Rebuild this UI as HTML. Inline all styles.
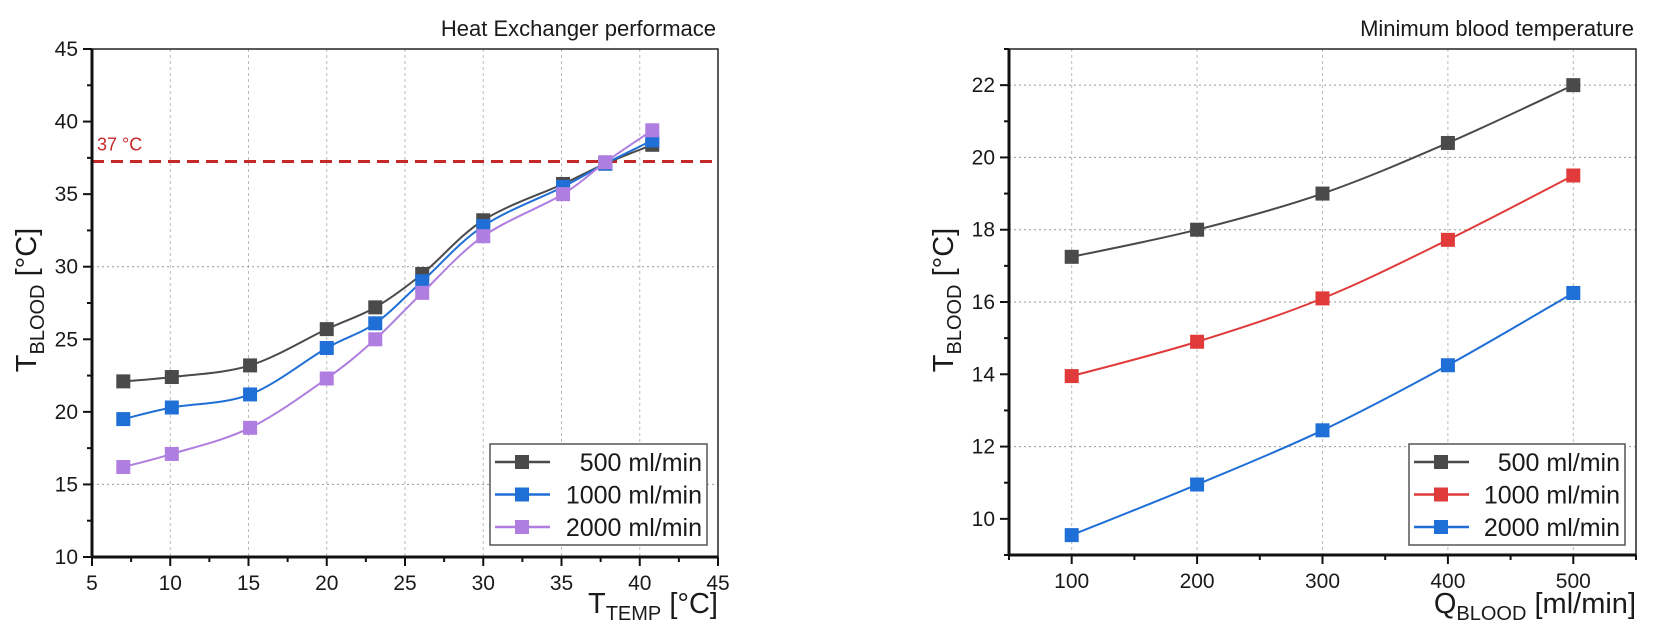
<!DOCTYPE html>
<html><head><meta charset="utf-8">
<style>
html,body{margin:0;padding:0;background:#fff;}
svg{display:block;}
text{font-family:"Liberation Sans",Arial,sans-serif;fill:#1a1a1a;}
</style></head>
<body>
<svg id="s" width="1654" height="642" viewBox="0 0 1654 642" xmlns="http://www.w3.org/2000/svg"></svg>
<script>
const S=document.getElementById('s');let h='';
function cr(pts){let d='M'+pts[0][0]+','+pts[0][1];for(let i=0;i<pts.length-1;i++){const p0=pts[i-1]||pts[i],p1=pts[i],p2=pts[i+1],p3=pts[i+2]||pts[i+1];const t=6;d+=` C${p1[0]+(p2[0]-p0[0])/t},${p1[1]+(p2[1]-p0[1])/t} ${p2[0]-(p3[0]-p1[0])/t},${p2[1]-(p3[1]-p1[1])/t} ${p2[0]},${p2[1]}`;}return d;}
function plot(c){
 const X=v=>c.x0+(v-c.xmin)/(c.xmax-c.xmin)*(c.x1-c.x0);
 const Y=v=>c.y1-(v-c.ymin)/(c.ymax-c.ymin)*(c.y1-c.y0);
 c.xt.forEach(v=>{h+=`<line x1="${X(v)}" y1="${c.y0}" x2="${X(v)}" y2="${c.y1}" stroke="#bbb" stroke-width="1" stroke-dasharray="3,3"/>`;});
 c.yg.forEach(v=>{h+=`<line x1="${c.x0}" y1="${Y(v)}" x2="${c.x1}" y2="${Y(v)}" stroke="#999" stroke-width="1" stroke-dasharray="2,3"/>`;});
 if(c.extra)c.extra(X,Y);
 c.series.forEach(s=>{const pts=s.d.map((v,i)=>[X(c.xs[i]),Y(v)]);h+=`<path d="${cr(pts)}" fill="none" stroke="${s.c}" stroke-width="2"/>`;pts.forEach(p=>{h+=`<rect x="${p[0]-7}" y="${p[1]-7}" width="14" height="14" fill="${s.c}"/>`;});});
 h+=`<rect x="${c.x0}" y="${c.y0}" width="${c.x1-c.x0}" height="${c.y1-c.y0}" fill="none" stroke="#222" stroke-width="1.5"/>`;
 h+=`<line x1="${c.x0}" y1="${c.y0}" x2="${c.x0}" y2="${c.y1}" stroke="#111" stroke-width="3"/><line x1="${c.x0}" y1="${c.y1}" x2="${c.x1}" y2="${c.y1}" stroke="#111" stroke-width="3"/>`;
 c.xt.concat(c.xtl).forEach(v=>{h+=`<line x1="${X(v)}" y1="${c.y1}" x2="${X(v)}" y2="${c.y1+9}" stroke="#111" stroke-width="2"/>`;});
 c.xm.forEach(v=>{h+=`<line x1="${X(v)}" y1="${c.y1}" x2="${X(v)}" y2="${c.y1+5}" stroke="#111" stroke-width="2"/>`;});
 c.yt.forEach(v=>{h+=`<line x1="${c.x0}" y1="${Y(v)}" x2="${c.x0-9}" y2="${Y(v)}" stroke="#111" stroke-width="2"/><text x="${c.x0-14}" y="${Y(v)+7}" font-size="21" text-anchor="end">${v}</text>`;});
 c.ym.forEach(v=>{h+=`<line x1="${c.x0}" y1="${Y(v)}" x2="${c.x0-5}" y2="${Y(v)}" stroke="#111" stroke-width="2"/>`;});
 c.xt.concat(c.xtl).forEach(v=>{h+=`<text x="${X(v)}" y="${c.y1+33}" font-size="21" text-anchor="middle">${v}</text>`;});
 h+=`<text x="${c.x1-2}" y="36" font-size="22" text-anchor="end">${c.title}</text>`;
 h+=`<text x="${c.x1}" y="613" font-size="29" text-anchor="end">${c.xl}</text>`;
 h+=`<text transform="translate(${c.yx},${c.yy}) rotate(-90)" font-size="29" text-anchor="middle">T<tspan font-size="20" dy="8">BLOOD</tspan><tspan dy="-8"> [°C]</tspan></text>`;
 const L=c.leg;h+=`<rect x="${L[0]}" y="444" width="${L[1]-L[0]}" height="101" fill="#fff" stroke="#555" stroke-width="1.5"/>`;
 c.series.forEach((s,i)=>{const yy=462+i*32.5;h+=`<line x1="${L[0]+5}" y1="${yy}" x2="${L[0]+60}" y2="${yy}" stroke="${s.c}" stroke-width="2.5"/><rect x="${L[0]+25}" y="${yy-7}" width="14" height="14" fill="${s.c}"/><text x="${L[1]-5}" y="${yy+9}" font-size="25" text-anchor="end">${s.n}</text>`;});
}
plot({x0:92,x1:718,y0:49,y1:557,xmin:5,xmax:45,ymin:10,ymax:45,
 xt:[10,15,20,25,30,35,40],xtl:[5,45],xm:[7.5,12.5,17.5,22.5,27.5,32.5,37.5,42.5],
 yt:[10,15,20,25,30,35,40,45],ym:[12.5,17.5,22.5,27.5,32.5,37.5,42.5],yg:[15,30],
 xs:[7,10.1,15.1,20,23.1,26.1,30,35.1,37.8,40.8],
 series:[{c:'#4a4a4a',n:'500 ml/min',d:[22.1,22.4,23.2,25.7,27.2,29.5,33.2,35.7,37.1,38.4]},
 {c:'#1f6fd6',n:'1000 ml/min',d:[19.5,20.3,21.2,24.4,26.1,29.0,32.8,35.5,37.1,38.7]},
 {c:'#b07ee0',n:'2000 ml/min',d:[16.2,17.1,18.9,22.3,25.0,28.2,32.1,35.0,37.2,39.4]}],
 extra:(X,Y)=>{h+=`<line x1="92" y1="${Y(37.25)}" x2="718" y2="${Y(37.25)}" stroke="#c62828" stroke-width="3" stroke-dasharray="12,7"/><text x="97" y="${Y(37.25)-11}" font-size="18" style="fill:#c62828">37 °C</text>`;},
 title:'Heat Exchanger performace',xl:'T<tspan font-size="20" dy="7">TEMP</tspan><tspan dy="-7"> [°C]</tspan>',yx:36,yy:300,leg:[490,707]});
plot({x0:1009,x1:1636,y0:49,y1:555,xmin:50,xmax:550,ymin:9,ymax:23,
 xt:[100,200,300,400,500],xtl:[],xm:[50,150,250,350,450,550],
 yt:[10,12,14,16,18,20,22],ym:[9,11,13,15,17,19,21,23],yg:[12,16,18,20,22],
 xs:[100,200,300,400,500],
 series:[{c:'#4a4a4a',n:'500 ml/min',d:[17.25,18.0,19.0,20.4,22.0]},
 {c:'#e03a3a',n:'1000 ml/min',d:[13.95,14.9,16.1,17.72,19.5]},
 {c:'#1f6fd6',n:'2000 ml/min',d:[9.55,10.95,12.45,14.25,16.25]}],
 title:'Minimum blood temperature',xl:'Q<tspan font-size="20" dy="7">BLOOD</tspan><tspan dy="-7"> [ml/min]</tspan>',yx:953,yy:300,leg:[1409,1625]});
S.innerHTML=h;
</script>
</body></html>
